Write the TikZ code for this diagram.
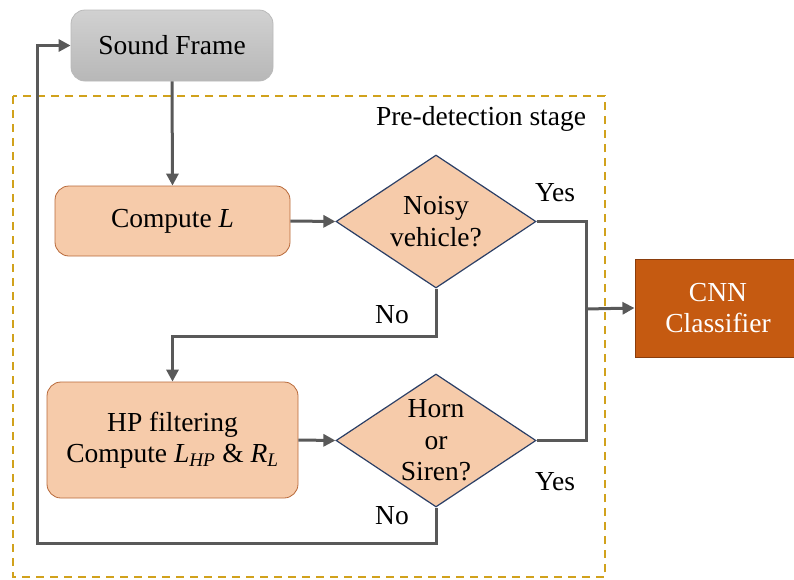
\documentclass[tikz,border=0pt]{standalone}
\usepackage{fontspec}
\setmainfont{Liberation Serif}
\usetikzlibrary{shapes.geometric,arrows.meta}
\definecolor{lineg}{HTML}{595959}
\definecolor{peach}{HTML}{F6CBAA}
\definecolor{peachb}{HTML}{B8693A}
\definecolor{navy}{HTML}{2B3F66}
\definecolor{rust}{HTML}{C55A11}
\definecolor{rustb}{HTML}{8A3D0C}
\definecolor{gold}{HTML}{D1A21C}
\tikzset{
  txt/.style={font=\fontsize{27.5}{31.5}\selectfont, align=center},
  procbox/.style={txt, draw=peachb, line width=0.8pt, fill=peach, rounded corners=14pt, inner sep=0pt},
  decide/.style={diamond, draw=navy, line width=1.2pt, fill=peach, inner sep=0pt, minimum width=200pt, minimum height=133pt},
  ln/.style={draw=lineg, line width=3pt},
  arr/.style={ln, -{Triangle[length=12pt,width=12pt]}},
}
\begin{document}
\begin{tikzpicture}[x=1pt,y=-1pt]
\useasboundingbox (0,0) rectangle (794,579);
% stage frame
\draw[gold, line width=1.8pt, dash pattern=on 8pt off 6pt] (13,96) rectangle (605,577);
\node[txt] (stage) at (481,119) {Pre-detection stage};
% nodes
\node[txt, draw=gray!55, line width=0.8pt, top color=black!18, bottom color=black!28, rounded corners=14pt, minimum width=202pt, minimum height=71pt] (sf) at (172,45.5) {Sound Frame};
\node[procbox, minimum width=235pt, minimum height=70pt] (cl) at (172.5,221) {Compute \textit{L}};
\node[decide] (nv) at (436,221.5) {};
\node[txt] (nvt) at (nv.center) {Noisy\\vehicle?};
\node[procbox, minimum width=251pt, minimum height=116pt] (hp) at (172.5,440) {HP filtering\\Compute \textit{L}\textsubscript{\textit{HP}} \& \textit{R}\textsubscript{\textit{L}}};
\node[decide] (hs) at (436,440.5) {};
\node[txt] (hst) at (hs.center) {Horn\\or\\Siren?};
\node[txt, draw=rustb, line width=1pt, fill=rust, text=white, minimum width=166pt, minimum height=98pt, inner sep=0pt] (cnn) at (718,308) {CNN\\Classifier};
% labels
\node[txt] (y1) at (555,193) {Yes};
\node[txt] (n1) at (392,315) {No};
\node[txt] (y2) at (555,482) {Yes};
\node[txt] (n2) at (392,516) {No};
% connectors
\coordinate (jn) at (586,309);
\coordinate (lp) at (37,543);
\draw[arr] (sf.south) -- (cl.north);
\draw[arr] (cl.east) -- (nv.west);
\draw[arr] (nv.south) -- ++(0,48) -| (hp.north);
\draw[arr] (hp.east) -- (hs.west);
\draw[ln] (nv.east) -| (jn) |- (hs.east);
\draw[arr] (jn) -- (cnn.west);
\draw[arr] (hs.south) |- (lp) |- (sf.west);
\end{tikzpicture}
\end{document}
